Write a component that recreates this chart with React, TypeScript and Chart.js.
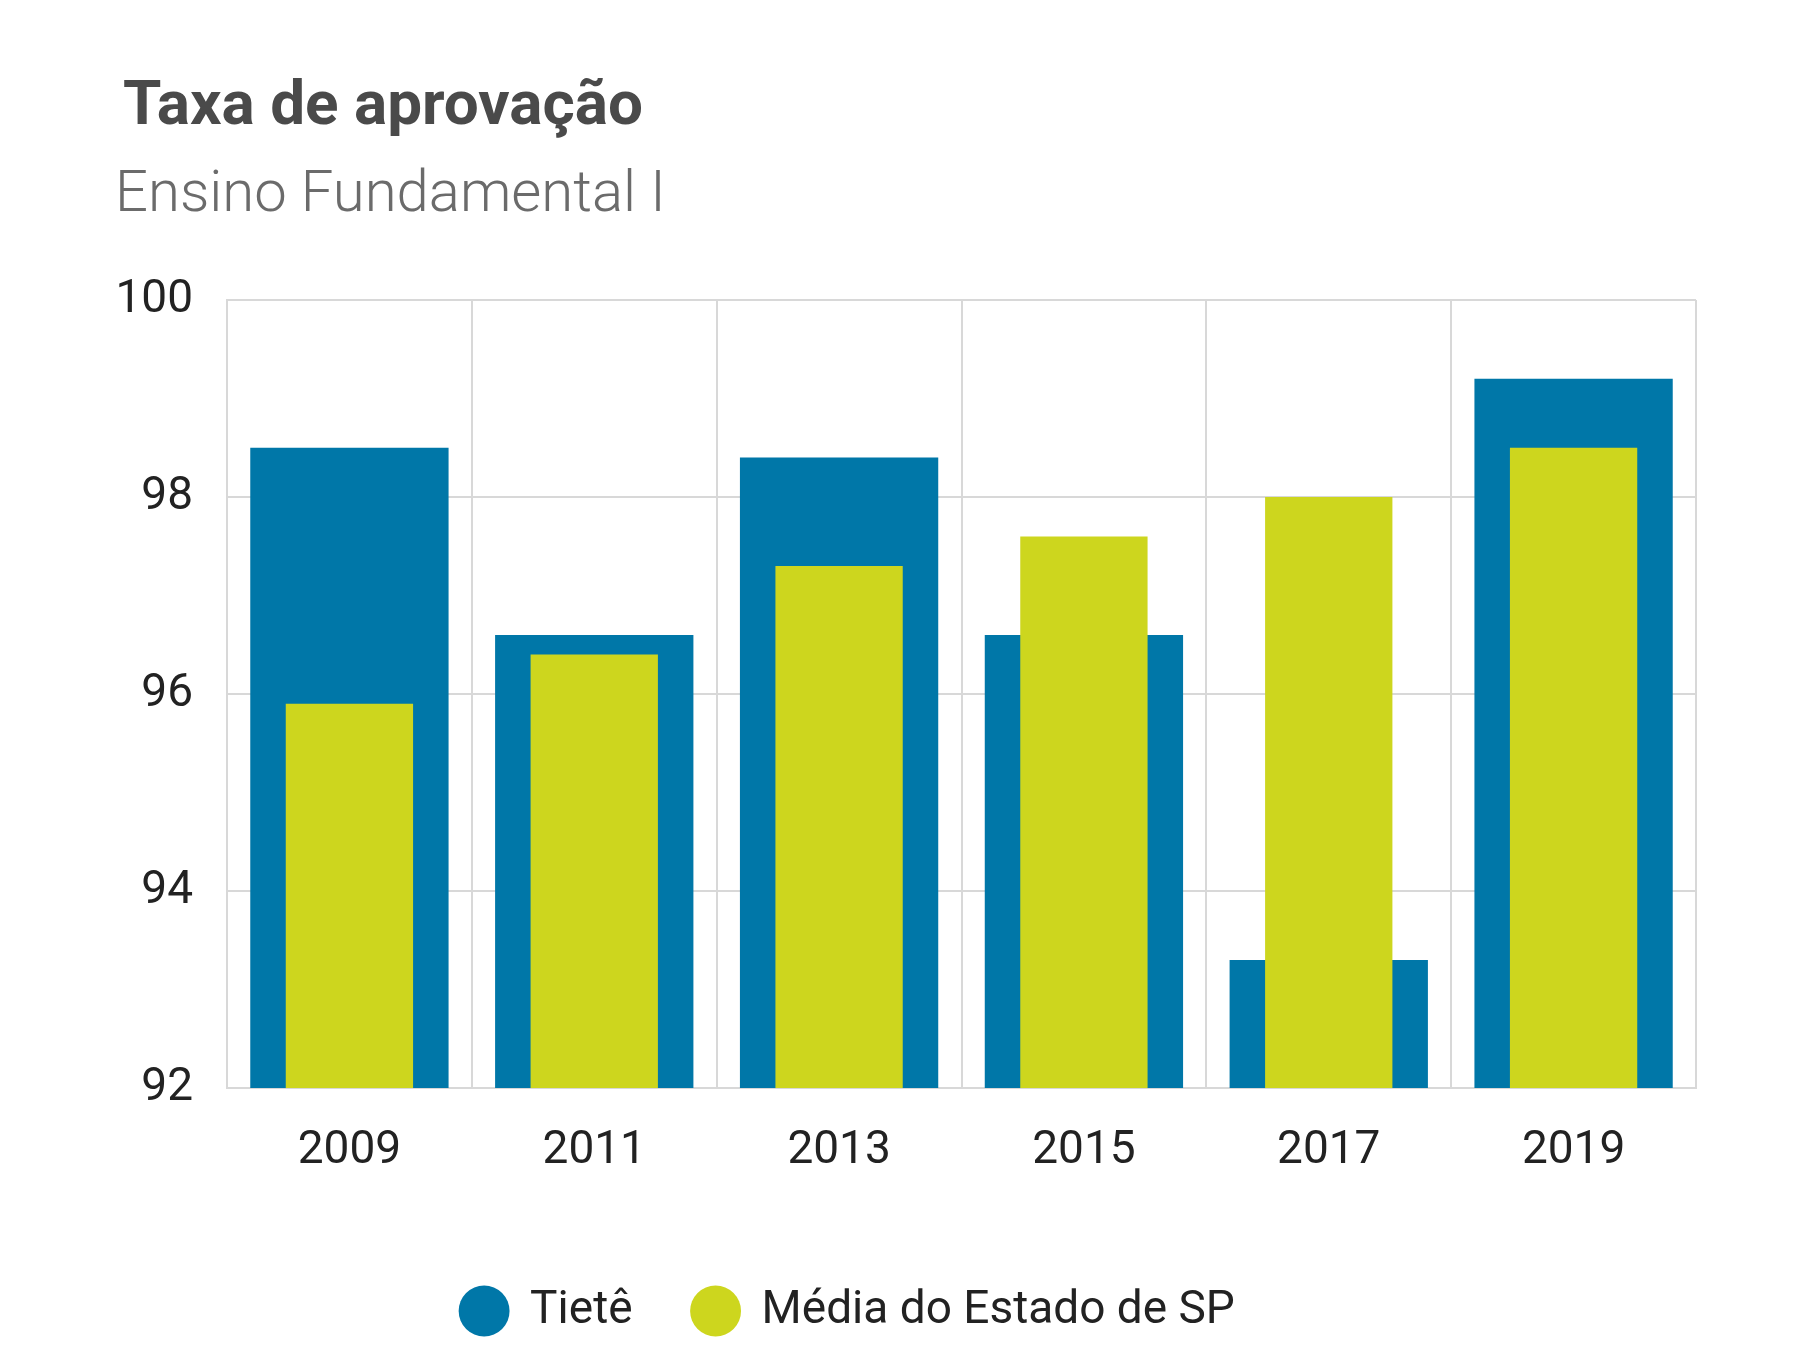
import React, { useEffect, useRef } from "react";
import { Chart, registerables } from "chart.js";
Chart.register(...registerables);

const years = ["2009", "2011", "2013", "2015", "2017", "2019"];
const tiete = [98.5, 96.6, 98.4, 96.6, 93.3, 99.2];
const mediaSP = [95.9, 96.4, 97.3, 97.6, 98.0, 98.5];
const titleText = "Taxa de aprovação";
const subtitleText = "Ensino Fundamental I";

const titlePlugin = {
  id: "titles",
  afterDraw(chart: any) {
    const ctx = chart.ctx;
    ctx.save();
    ctx.textBaseline = "middle";
    ctx.fillStyle = "#4a4a4a";
    ctx.font = "bold 62px Roboto";
    ctx.fillText(titleText, 123, 108);
    ctx.fillStyle = "#6b6b6b";
    ctx.font = "300 58px Roboto";
    ctx.fillText(subtitleText, 115, 196);
    ctx.restore();
  },
};

export default function App() {
  const ref = useRef<HTMLCanvasElement>(null);
  useEffect(() => {
    document.body.style.margin = "0";
    const chart = new Chart(ref.current!, {
      type: "bar",
      data: {
        labels: years,
        datasets: [
          { label: "Tietê", data: tiete, backgroundColor: "#0077a8", barPercentage: 0.81, categoryPercentage: 1, order: 2 },
          { label: "Média do Estado de SP", data: mediaSP, backgroundColor: "#cdd61e", barPercentage: 0.52, categoryPercentage: 1, order: 1 },
        ],
      },
      options: {
        responsive: false,
        animation: false,
        datasets: { bar: { grouped: false } },
        layout: { padding: { top: 300, right: 104, bottom: 6, left: 0 } },
        plugins: {
          tooltip: { enabled: false },
          legend: {
            position: "bottom",
            labels: {
              usePointStyle: true,
              pointStyle: "circle",
              boxWidth: 80,
              boxHeight: 36,
              padding: 60,
              color: "#222",
              font: { family: "Roboto", size: 46 },
              sort: (a: any, b: any) => a.datasetIndex - b.datasetIndex,
            },
          },
        },
        scales: {
          x: {
            grid: { color: "#d8d8d8", lineWidth: 2, offset: true, drawTicks: false },
            border: { color: "#d8d8d8", width: 2 },
            ticks: { color: "#222", font: { family: "Roboto", size: 46 }, padding: 36 },
            afterFit: (s: any) => { s.height = 140; },
          },
          y: {
            min: 92,
            max: 100,
            grid: { color: "#d8d8d8", lineWidth: 2, drawTicks: false },
            border: { color: "#d8d8d8", width: 2 },
            ticks: { stepSize: 2, color: "#222", font: { family: "Roboto", size: 46 }, padding: 34 },
            afterFit: (s: any) => { s.width = 227; },
          },
        },
      },
      plugins: [titlePlugin],
    } as any);
    return () => chart.destroy();
  }, []);
  return <canvas ref={ref} width={1800} height={1350} style={{ display: "block" }} />;
}
